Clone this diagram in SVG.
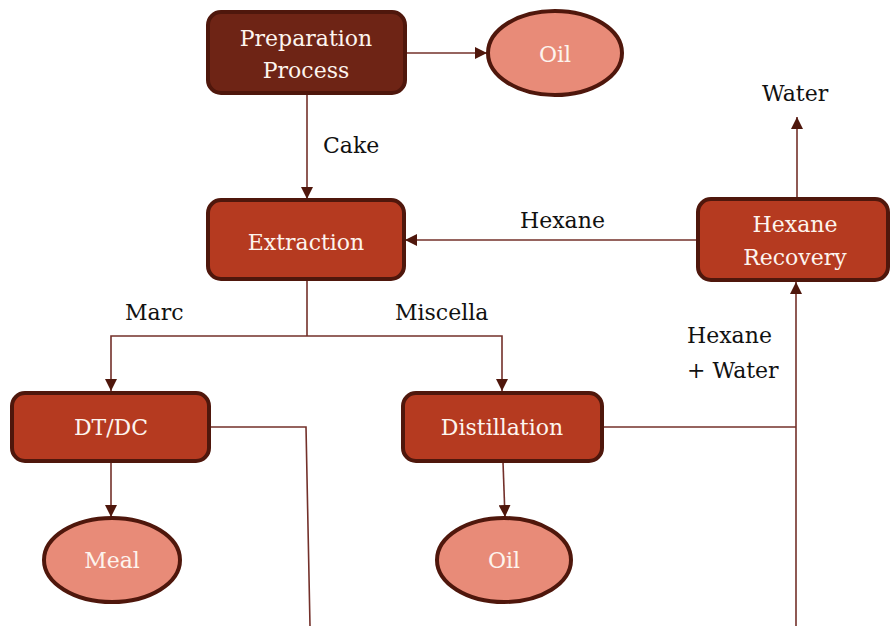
<svg xmlns="http://www.w3.org/2000/svg" width="890" height="626" viewBox="0 0 890 626">
  <style>
    .box { stroke: #4f170c; stroke-width: 4; }
    .dark { fill: #6e2415; }
    .mid { fill: #b53a20; }
    .oval { fill: #e88b78; stroke: #4f170c; stroke-width: 4; }
    text { font-family: 'DejaVu Serif', 'Liberation Serif', serif; font-size: 22px; }
    .in { fill: #fdf4ee; text-anchor: middle; }
    .lbl { fill: #111; }
    .wire { fill: none; stroke: #73302a; stroke-width: 1.6; }
  </style>
  <defs>
    <marker id="arrow" viewBox="0 0 12 12" refX="12" refY="6" markerWidth="12" markerHeight="12" markerUnits="userSpaceOnUse" orient="auto">
      <path d="M0,0 L12,6 L0,12 Z" fill="#4f170c"/>
    </marker>
  </defs>

  <g id="connectors">
    <!-- Preparation -> Oil -->
    <line class="wire" x1="406" y1="53" x2="487" y2="53" marker-end="url(#arrow)"/>
    <!-- Preparation -> Extraction (Cake) -->
    <line class="wire" x1="307" y1="94" x2="307" y2="199" marker-end="url(#arrow)"/>
    <!-- Hexane Recovery -> Extraction -->
    <line class="wire" x1="697" y1="240" x2="405" y2="240" marker-end="url(#arrow)"/>
    <!-- Hexane Recovery -> Water -->
    <line class="wire" x1="797" y1="198" x2="797" y2="117" marker-end="url(#arrow)"/>
    <!-- Extraction split: Marc / Miscella -->
    <polyline class="wire" points="307,280 307,336"/>
    <polyline class="wire" points="307,336 111,336 111,391" marker-end="url(#arrow)"/>
    <polyline class="wire" points="307,336 502,336 502,391" marker-end="url(#arrow)"/>
    <!-- DT/DC -> Meal -->
    <line class="wire" x1="111" y1="462" x2="111" y2="517" marker-end="url(#arrow)"/>
    <!-- Distillation -> Oil -->
    <line class="wire" x1="503" y1="462" x2="505" y2="517" marker-end="url(#arrow)"/>
    <!-- DT/DC side line -->
    <polyline class="wire" points="210,427 306,427 310,626"/>
    <!-- Distillation -> Hexane Recovery (Hexane + Water) -->
    <polyline class="wire" points="603,427 796,427"/>
    <line class="wire" x1="796" y1="626" x2="796" y2="282" marker-end="url(#arrow)"/>
  </g>

  <g id="labels">
    <text class="lbl" x="323" y="153">Cake</text>
    <text class="lbl" x="520" y="228">Hexane</text>
    <text class="lbl" x="762" y="101">Water</text>
    <text class="lbl" x="125" y="320">Marc</text>
    <text class="lbl" x="395" y="320">Miscella</text>
    <text class="lbl" x="687" y="343">Hexane</text>
    <text class="lbl" x="687" y="378">+ Water</text>
  </g>

  <g id="preparation">
    <rect class="box dark" x="208" y="12" width="197" height="81" rx="13"/>
    <text class="in" x="306" y="46">Preparation</text>
    <text class="in" x="306" y="78">Process</text>
  </g>

  <g id="oil-top">
    <ellipse class="oval" cx="555" cy="53" rx="67" ry="42"/>
    <text class="in" x="555" y="62">Oil</text>
  </g>

  <g id="extraction">
    <rect class="box mid" x="208" y="200" width="196" height="79" rx="13"/>
    <text class="in" x="306" y="250">Extraction</text>
  </g>

  <g id="hexane-recovery">
    <rect class="box mid" x="698" y="199" width="190" height="81" rx="13"/>
    <text class="in" x="795" y="232">Hexane</text>
    <text class="in" x="795" y="265">Recovery</text>
  </g>

  <g id="dtdc">
    <rect class="box mid" x="12" y="393" width="197" height="68" rx="13"/>
    <text class="in" x="111" y="435">DT/DC</text>
  </g>

  <g id="distillation">
    <rect class="box mid" x="403" y="393" width="199" height="68" rx="13"/>
    <text class="in" x="502" y="435">Distillation</text>
  </g>

  <g id="meal">
    <ellipse class="oval" cx="112" cy="560" rx="68" ry="42"/>
    <text class="in" x="112" y="568">Meal</text>
  </g>

  <g id="oil-bottom">
    <ellipse class="oval" cx="504" cy="560" rx="67" ry="42"/>
    <text class="in" x="504" y="568">Oil</text>
  </g>
</svg>
